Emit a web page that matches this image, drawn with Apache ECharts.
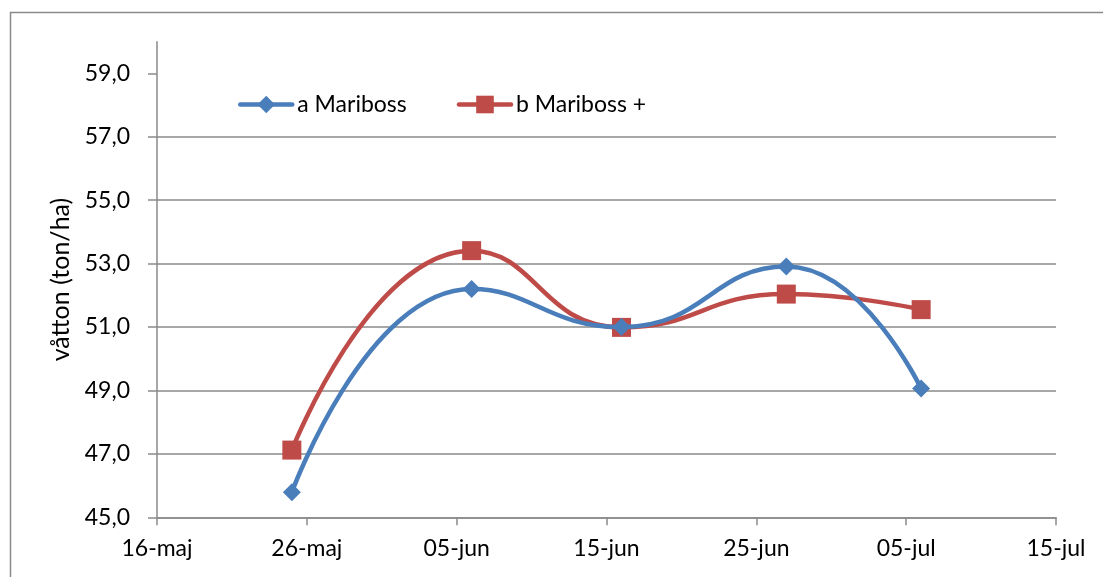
<!DOCTYPE html>
<html>
<head>
<meta charset="utf-8">
<script src="https://cdn.jsdelivr.net/npm/echarts@6/dist/echarts.min.js"></script>
<style>
  html, body { margin: 0; padding: 0; background: #fff; }
  #chart { width: 1103px; height: 577px; }
</style>
</head>
<body>
<div id="chart"></div>
<script>
// ---- data ----
const baseDate = '05-16';
const xTickLabels = ['16-maj', '26-maj', '05-jun', '15-jun', '25-jun', '05-jul', '15-jul'];
const seriesNames = ['a Mariboss', 'b Mariboss +'];
const datesA = ['05-25', '06-06', '06-16', '06-27', '07-06'];
const valuesA = [45.79, 52.20, 51.00, 52.91, 49.06];
const datesB = ['05-25', '06-06', '06-16', '06-27', '07-06'];
const valuesB = [47.12, 53.41, 50.99, 52.04, 51.55];
const yTicks = [45, 47, 49, 51, 53, 55, 57, 59];
const yAxisTitle = 'våtton (ton/ha)';

function dayOffset(md) {
  const [m, d] = md.split('-').map(Number);
  const [bm, bd] = baseDate.split('-').map(Number);
  return Math.round((Date.UTC(2011, m - 1, d) - Date.UTC(2011, bm - 1, bd)) / 86400000);
}
const dataA = datesA.map((d, i) => [dayOffset(d), valuesA[i]]);
const dataB = datesB.map((d, i) => [dayOffset(d), valuesB[i]]);

const FONT = 'Lato';
const GRID_COLOR = '#8a8a8a';
const BLUE = '#4A7EBB';
const RED = '#BE4B48';

const chart = echarts.init(document.getElementById('chart'), null, { renderer: 'canvas' });
chart.setOption({
  animation: false,
  textStyle: { fontFamily: FONT },
  graphic: [{
    type: 'rect',
    shape: { x: 10.5, y: 12.5, width: 1100, height: 600 },
    style: { fill: 'none', stroke: '#8a8a8a', lineWidth: 1.5 },
    silent: true, z: -10
  }],
  grid: { left: 157, right: 47, top: 41.7, bottom: 59.7, containLabel: false },
  legend: {
    left: 233, top: 88,
    itemWidth: 52, itemHeight: 22, itemGap: 50,
    lineStyle: { width: 4.5 },
    textStyle: { fontFamily: FONT, fontSize: 23, color: '#000' },
    data: seriesNames
  },
  xAxis: {
    type: 'value', min: 0, max: 60, interval: 10,
    axisLine: { show: true, lineStyle: { color: GRID_COLOR, width: 1.5 } },
    axisTick: { show: true, length: 8, lineStyle: { color: GRID_COLOR, width: 1.5 } },
    axisLabel: {
      fontFamily: FONT, fontSize: 23, color: '#000', margin: 20,
      showMinLabel: true, showMaxLabel: true,
      formatter: v => xTickLabels[Math.round(v / 10)]
    },
    splitLine: { show: false }
  },
  yAxis: {
    type: 'value', min: 45, max: 60, interval: 2,
    name: yAxisTitle, nameLocation: 'middle', nameGap: 82, nameRotate: 90,
    nameTextStyle: { fontFamily: FONT, fontSize: 25, color: '#000' },
    axisLine: { show: true, lineStyle: { color: GRID_COLOR, width: 1.5 } },
    axisTick: { show: true, inside: false, length: 9, customValues: yTicks, lineStyle: { color: GRID_COLOR, width: 1.5 } },
    axisLabel: {
      fontFamily: FONT, fontSize: 23, color: '#000', margin: 27,
      customValues: yTicks,
      formatter: v => v.toFixed(1).replace('.', ',')
    },
    splitLine: { show: true, showMaxLine: false, lineStyle: { color: GRID_COLOR, width: 1.5 } }
  },
  series: [
    {
      name: seriesNames[0], type: 'line', data: dataA, smooth: 0.5,
      symbol: 'diamond', symbolSize: 18,
      lineStyle: { color: BLUE, width: 4.5, cap: 'round' },
      itemStyle: { color: BLUE }, z: 3
    },
    {
      name: seriesNames[1], type: 'line', data: dataB, smooth: 0.5,
      symbol: 'rect', symbolSize: 19,
      lineStyle: { color: RED, width: 4.5, cap: 'round' },
      itemStyle: { color: RED }, z: 2
    }
  ]
});
</script>
</body>
</html>
